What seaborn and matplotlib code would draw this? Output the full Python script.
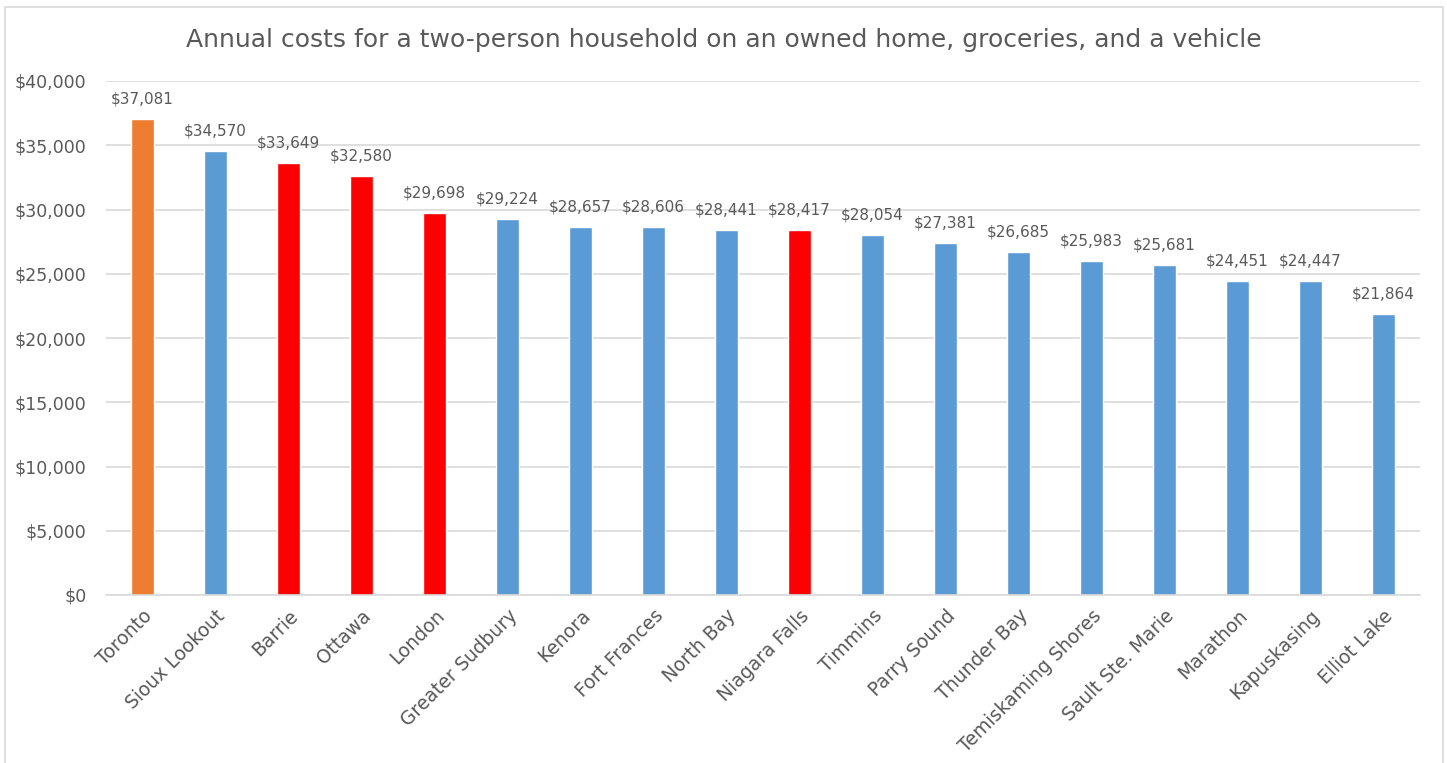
import matplotlib
matplotlib.use("Agg")
import matplotlib.pyplot as plt
import seaborn as sns
import pandas as pd
from matplotlib.ticker import FuncFormatter
from matplotlib.patches import Rectangle

cities = ["Toronto", "Sioux Lookout", "Barrie", "Ottawa", "London", "Greater Sudbury",
          "Kenora", "Fort Frances", "North Bay", "Niagara Falls", "Timmins", "Parry Sound",
          "Thunder Bay", "Temiskaming Shores", "Sault Ste. Marie", "Marathon",
          "Kapuskasing", "Elliot Lake"]
costs = [37081, 34570, 33649, 32580, 29698, 29224, 28657, 28606, 28441, 28417,
         28054, 27381, 26685, 25983, 25681, 24451, 24447, 21864]
groups = ["highlight", "other", "red", "red", "red", "other", "other", "other", "other",
          "red", "other", "other", "other", "other", "other", "other", "other", "other"]
group_colors = {"highlight": "#ED7D31", "other": "#5B9BD5", "red": "#FF0000"}

df = pd.DataFrame({"city": cities, "cost": costs, "group": groups})

sns.set_theme(style="white")
plt.rcParams["font.family"] = ["DejaVu Sans"]
txt = "#595959"

fig = plt.figure(figsize=(14.47, 7.63), dpi=100)
ax = fig.add_axes([106/1447, 1-595/763, (1420-106)/1447, (595-81)/763])

palette = [group_colors[g] for g in groups]
sns.barplot(data=df, x="city", y="cost", hue="city", palette=palette, legend=False,
            width=0.315, saturation=1, ax=ax)

ax.set_ylim(0, 40000)
ax.set_yticks(range(0, 40001, 5000))
ax.yaxis.set_major_formatter(FuncFormatter(lambda v, p: f"${v:,.0f}"))
ax.grid(axis="y", color="#D9D9D9", linewidth=1.2)
ax.set_axisbelow(True)
for s in ["top", "right", "left"]:
    ax.spines[s].set_visible(False)
ax.spines["bottom"].set_color("#D9D9D9")
ax.spines["bottom"].set_linewidth(1.2)
ax.set_xlabel("")
ax.set_ylabel("")
ax.tick_params(axis="y", colors=txt, labelsize=12.5, length=0, pad=14)
ax.tick_params(axis="x", colors=txt, labelsize=13.5, length=0, pad=8)
plt.setp(ax.get_xticklabels(), rotation=45, ha="right", rotation_mode="anchor")

for c in ax.containers:
    ax.bar_label(c, labels=[f"${v:,.0f}" for v in c.datavalues], padding=9,
                 color=txt, fontsize=11)

fig.text(0.5, 1-40/763, "Annual costs for a two-person household on an owned home, groceries, and a vehicle",
         ha="center", va="center", fontsize=18, color=txt)

fig.patches.append(Rectangle((5/1447, -0.01), (1443-5)/1447, 1-7/763 + 0.01,
                             transform=fig.transFigure, fill=False,
                             edgecolor="#D9D9D9", linewidth=1.2))

fig.savefig("out.png", dpi=100, facecolor="white")
